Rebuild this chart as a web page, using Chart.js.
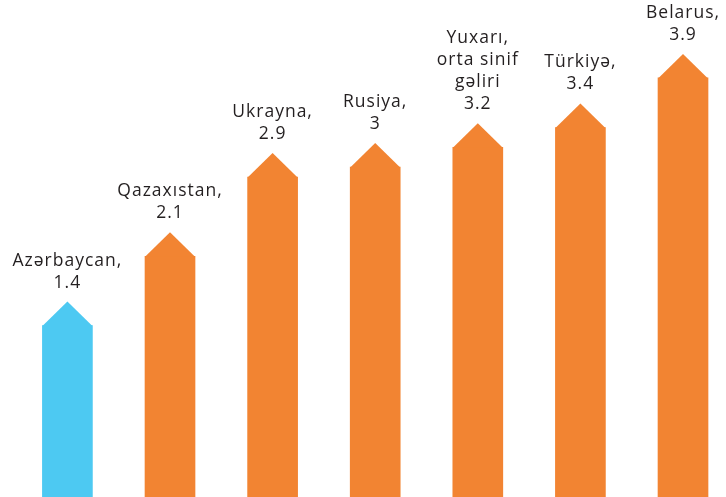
<!DOCTYPE html>
<html>
<head>
<meta charset="utf-8">
<script src="https://cdn.jsdelivr.net/npm/chart.js@4/dist/chart.umd.min.js"></script>
<style>
  html, body { margin: 0; padding: 0; background: #ffffff; }
  #wrap { width: 726px; height: 497px; position: relative; }
</style>
</head>
<body>
<div id="wrap"><canvas id="c" width="726" height="497"></canvas></div>
<script>
// ---- data ----
const categories = [
  ["Azərbaycan,"],
  ["Qazaxıstan,"],
  ["Ukrayna,"],
  ["Rusiya,"],
  ["Yuxarı,", "orta sinif", "gəliri"],
  ["Türkiyə,"],
  ["Belarus,"]
];
const values = [1.4, 2.1, 2.9, 3, 3.2, 3.4, 3.9];
const valueLabels = ["1.4", "2.1", "2.9", "3", "3.2", "3.4", "3.9"];

// ---- styles ----
const BLUE = "#4DC9F2";
const ORANGE = "#F28432";
const TEXT = "#231F20";
const FONT = "17.5px 'Open Sans', Lato, sans-serif";
const Y_MIN = -0.331, Y_MAX = 4.687;

const arrowAndLabels = {
  id: "arrowAndLabels",
  afterDatasetsDraw(chart) {
    const ctx = chart.ctx;
    const meta = chart.getDatasetMeta(0);
    meta.data.forEach((bar, i) => {
      const half = bar.width / 2;
      const tipH = bar.width * 0.48;
      ctx.save();
      ctx.fillStyle = i === 0 ? BLUE : ORANGE;
      ctx.beginPath();
      ctx.moveTo(bar.x - half, bar.y + 0.5);
      ctx.lineTo(bar.x, bar.y - tipH);
      ctx.lineTo(bar.x + half, bar.y + 0.5);
      ctx.closePath();
      ctx.fill();
      // labels
      const lines = categories[i].concat([valueLabels[i]]);
      ctx.fillStyle = TEXT;
      ctx.font = FONT;
      if ("letterSpacing" in ctx) ctx.letterSpacing = "1px";
      ctx.textAlign = "center";
      ctx.textBaseline = "alphabetic";
      const lastY = bar.y - tipH - 14;
      const lh = 22;
      lines.forEach((t, k) => {
        ctx.fillText(t, bar.x, lastY - (lines.length - 1 - k) * lh);
      });
      ctx.restore();
    });
  }
};

new Chart(document.getElementById("c"), {
  type: "bar",
  data: {
    datasets: [{
      data: values.map((v, i) => ({ x: i, y: v })),
      backgroundColor: values.map((v, i) => i === 0 ? BLUE : ORANGE),
      borderWidth: 0,
      barThickness: 50,
      base: Y_MIN
    }]
  },
  options: {
    responsive: false,
    animation: false,
    layout: { padding: 0 },
    plugins: { legend: { display: false }, tooltip: { enabled: false } },
    scales: {
      x: { type: "linear", min: -0.657, max: 6.419, display: false, offset: false },
      y: { min: Y_MIN, max: Y_MAX, display: false }
    }
  },
  plugins: [arrowAndLabels]
});
</script>
</body>
</html>
